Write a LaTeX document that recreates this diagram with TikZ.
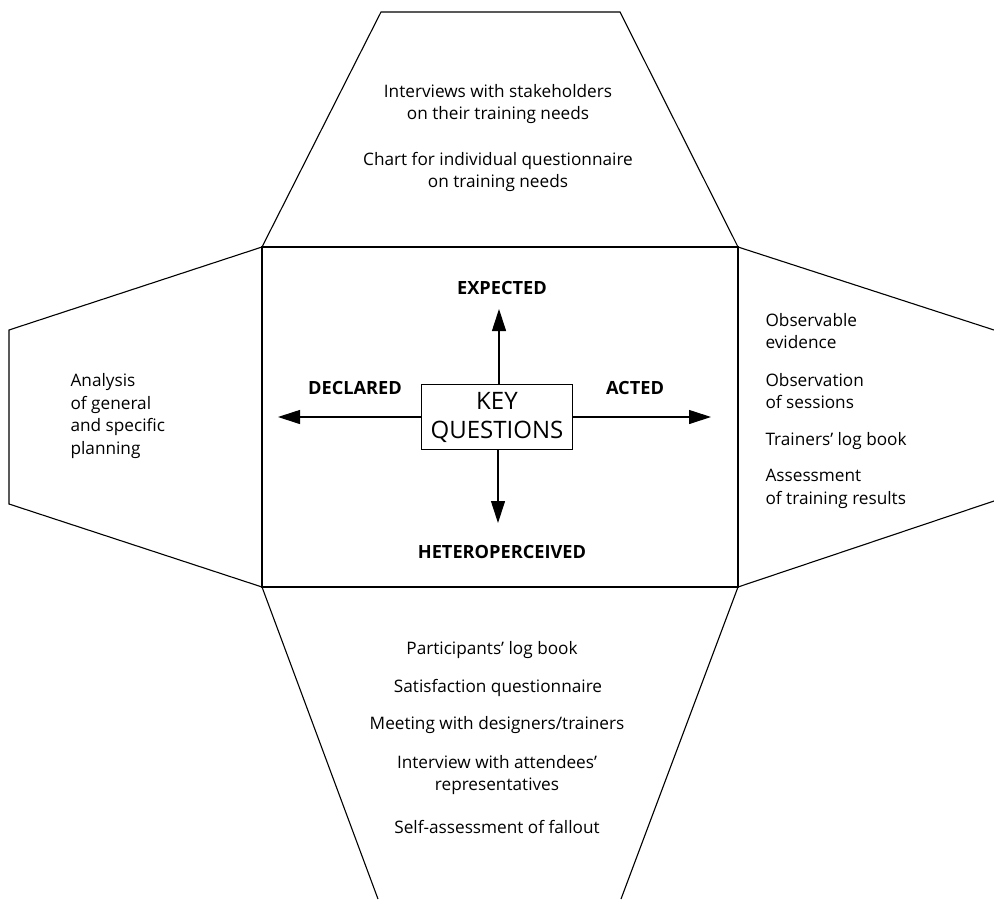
\documentclass[tikz,border=0pt]{standalone}
\usepackage{fontspec}
\setmainfont{Open Sans}
\usetikzlibrary{arrows.meta}
\tikzstyle{every node}=[inner sep=0pt,align=center,font=\fontsize{8.6}{11.3}\selectfont]
\tikzstyle{axis}=[font=\fontsize{9.1}{10}\selectfont\bfseries]
\tikzstyle{pointer}=[line width=0.55pt,-{Triangle[length=11pt,width=7pt]}]

\begin{document}
\begin{tikzpicture}[x=0.5pt,y=-0.5pt,line width=0.55pt,line join=miter]
	\useasboundingbox (0,0) rectangle (994,899);
	\draw (262,247) rectangle (738,587);
	\draw (262,247) -- (381,12) -- (620,12) -- (738,247);
	\draw (262,247) -- (9,330) -- (9,504) -- (262,587);
	\draw (994,330) -- (738,247);
	\draw (738,587) -- (994,501);
	\draw (378,899) -- (262,587);
	\draw (738,587) -- (621,899);

	\node[draw=black,minimum width=75.5pt,minimum height=32.5pt,
		font=\fontsize{12}{14.5}\selectfont] (kq) at (497,417) {KEY\\QUESTIONS};
	\coordinate (up) at (499,309);
	\coordinate (down) at (498,523);
	\coordinate (left) at (278,417);
	\coordinate (right) at (711,417);
	\draw[pointer] (kq.north -| up) -- (up);
	\draw[pointer] (kq.south -| down) -- (down);
	\draw[pointer] (kq.west) -- (left);
	\draw[pointer] (kq.east) -- (right);

	\node[axis] (expected) at (502,288) {EXPECTED};
	\node[axis] (declared) at (355,388) {DECLARED};
	\node[axis] (acted) at (635,388) {ACTED};
	\node[axis] (hetero) at (502,552) {HETEROPERCEIVED};

	\node (top1) at (498,104) {Interviews with stakeholders\\on their training needs};
	\node (top2) at (498,172) {Chart for individual questionnaire\\on training needs};

	\node[anchor=west,align=left] (plan) at (70,416) {Analysis\\of general\\and specific\\planning};

	\node[anchor=west,align=left] (obs1) at (765,331) {Observable\\evidence};
	\node[anchor=west,align=left] (obs2) at (765,391) {Observation\\of sessions};
	\node[anchor=west,align=left] (obs3) at (765,441) {Trainers’ log book};
	\node[anchor=west,align=left] (obs4) at (765,489) {Assessment\\of training results};

	\node (bot1) at (492,650) {Participants’ log book};
	\node (bot2) at (498,688) {Satisfaction questionnaire};
	\node (bot3) at (497,725) {Meeting with designers/trainers};
	\node (bot4) at (497,775) {Interview with attendees’\\representatives};
	\node (bot5) at (497,827) {Self-assessment of fallout};
\end{tikzpicture}
\end{document}
